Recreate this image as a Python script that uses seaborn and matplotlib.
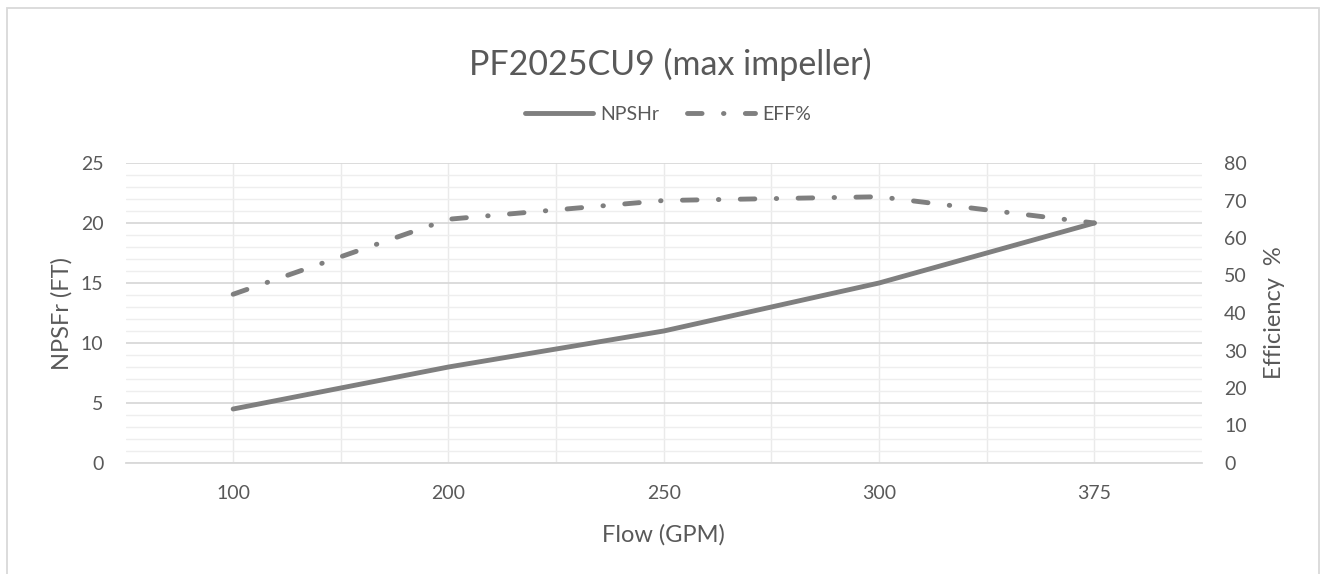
# Pump curve chart - NPSHr and efficiency vs flow

import pandas as pd
import matplotlib.pyplot as plt
import seaborn as sns
from matplotlib.patches import Rectangle
from matplotlib.ticker import MultipleLocator, FixedLocator

flow = ["100", "200", "250", "300", "375"]
npshr = [4.5, 8, 11, 15, 20]
eff = [45, 65, 70, 71, 64]

df = pd.DataFrame({"Flow": flow, "NPSHr": npshr, "EFF": eff})

sns.set_style("white")
plt.rcParams["font.family"] = ["Lato", "DejaVu Sans"]
txt = "#595959"
line_col = "#7F7F7F"

fig = plt.figure(figsize=(13.24, 5.74), dpi=100)
ax = fig.add_axes([125.5 / 1324, 1 - 463 / 574, (1202 - 125.5) / 1324, 300 / 574])
ax2 = ax.twinx()

sns.lineplot(x="Flow", y="NPSHr", data=df, ax=ax, color=line_col, lw=3.5,
             sort=False, label="NPSHr", solid_capstyle="round")
sns.lineplot(x="Flow", y="EFF", data=df, ax=ax2, color=line_col, lw=3.5,
             sort=False, label="EFF%", linestyle=(0, (3, 4.4, 0.1, 4.4)),
             dash_capstyle="round")

ax.set_xlim(-0.5, 4.5)
ax.set_ylim(0, 25)
ax2.set_ylim(0, 80)
ax.yaxis.set_major_locator(MultipleLocator(5))
ax.yaxis.set_minor_locator(MultipleLocator(1))
ax2.yaxis.set_major_locator(MultipleLocator(10))
ax.xaxis.set_minor_locator(FixedLocator([0.5, 1.5, 2.5, 3.5]))

ax.grid(True, axis="y", which="major", color="#D9D9D9", lw=1.3)
ax.grid(True, axis="y", which="minor", color="#EEEEEE", lw=1)
ax.grid(True, axis="x", which="both", color="#EAEAEA", lw=1)
ax.set_axisbelow(True)
ax2.grid(False)

for a in (ax, ax2):
    for s in a.spines.values():
        s.set_visible(False)
    a.tick_params(length=0, which="both", labelsize=14, colors=txt)
ax.spines["bottom"].set_visible(True)
ax.spines["bottom"].set_color("#D9D9D9")
ax.spines["bottom"].set_linewidth(1.3)
ax.tick_params(axis="x", pad=16)
ax.tick_params(axis="y", pad=16)
ax2.tick_params(axis="y", pad=16)

ax.set_xlabel("Flow (GPM)", fontsize=17, color=txt, labelpad=16)
ax.set_ylabel("NPSFr (FT)", fontsize=17, color=txt, labelpad=6)
ax2.set_ylabel("Efficiency  %", fontsize=17, color=txt, labelpad=12)

h1, l1 = ax.get_legend_handles_labels()
h2, l2 = ax2.get_legend_handles_labels()
ax.get_legend().remove()
ax2.get_legend().remove()
fig.legend(h1 + h2, l1 + l2, loc="center", bbox_to_anchor=(668 / 1324, 1 - 114 / 574),
           ncol=2, frameon=False, fontsize=14, handlelength=3.5, handletextpad=0.4,
           columnspacing=1.4, labelcolor=txt)

fig.text(670 / 1324, 1 - 75 / 574, "PF2025CU9 (max impeller)", ha="center", va="baseline",
         fontsize=24.5, color=txt)

fig.patches.append(Rectangle((7 / 1324, -0.05), (1319 - 7) / 1324, 1.05 - 8 / 574,
                             transform=fig.transFigure, fill=False,
                             edgecolor="#D9D9D9", lw=1.3))

plt.savefig("out.png", dpi=100)
